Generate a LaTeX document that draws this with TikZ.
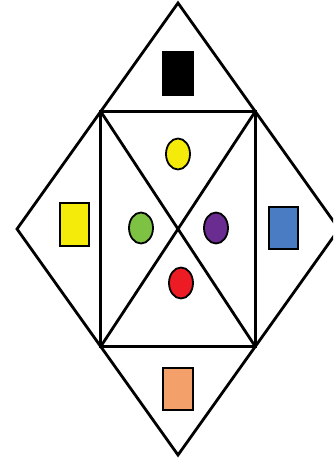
\documentclass[tikz,border=0pt]{standalone}
\usepackage{tikz}
\usetikzlibrary{calc}
\usetikzlibrary{shapes.geometric}

\definecolor{cyellow}{HTML}{F5EB0A}
\definecolor{cgreen}{HTML}{7DC242}
\definecolor{cpurple}{HTML}{6A2C91}
\definecolor{cred}{HTML}{ED1C24}
\definecolor{cblue}{HTML}{4A7CC4}
\definecolor{corange}{HTML}{F4A06B}

\begin{document}
\begin{tikzpicture}[x=1pt, y=1pt,
				 ovalnode/.style={ellipse, minimum width=24pt, minimum height=31pt, inner sep=0pt, draw=black, line width=1.8pt},
				 boxnode/.style={rectangle, minimum width=29pt, minimum height=42pt, inner sep=0pt, draw=black, line width=1.8pt},
				 edge/.style={line width=2.8pt, line join=miter},
				 ]
				 \useasboundingbox (0, 0) rectangle (333, 461);
				 \clip (0, 0) rectangle (333, 461);

				 % Corners
				 \coordinate						(top_outer)			at (178, 458);
				 \coordinate						(left_outer)		at (17, 232);
				 \coordinate						(bottom_outer)		at (178, 6);
				 \coordinate						(right_outer)		at (339, 232);
				 \coordinate						(nw_inner)			at ($(top_outer)!0.48!(left_outer)$);
				 \coordinate						(ne_inner)			at ($(top_outer)!0.48!(right_outer)$);
				 \coordinate						(sw_inner)			at ($(bottom_outer)!0.48!(left_outer)$);
				 \coordinate						(se_inner)			at ($(bottom_outer)!0.48!(right_outer)$);

				 % Lines
				 \draw[edge] (top_outer) -- (left_outer) -- (bottom_outer) -- (right_outer) -- cycle;
				 \draw[edge] (nw_inner) -- (ne_inner) -- (se_inner) -- (sw_inner) -- cycle;
				 \draw[edge] (nw_inner) -- (se_inner);
				 \draw[edge] (ne_inner) -- (sw_inner);

				 % Nodes
				 \node[boxnode, fill=black, minimum width=30pt, minimum height=43pt]	(box_top)			at (178, 387.5)		{};
				 \node[boxnode, fill=cyellow, minimum height=43pt]					(box_left)			at (74.5, 236.5)	{};
				 \node[boxnode, fill=cblue]											(box_right)			at (283.5, 233)		{};
				 \node[boxnode, fill=corange, minimum width=30pt]					(box_bottom)		at (178, 72)		{};
				 \node[ovalnode, fill=cyellow]										(oval_top)			at (178, 307)		{};
				 \node[ovalnode, fill=cgreen]										(oval_left)			at (141, 233)		{};
				 \node[ovalnode, fill=cpurple]										(oval_right)		at (216, 233)		{};
				 \node[ovalnode, fill=cred]											(oval_bottom)		at (181, 178)		{};
\end{tikzpicture}
\end{document}
